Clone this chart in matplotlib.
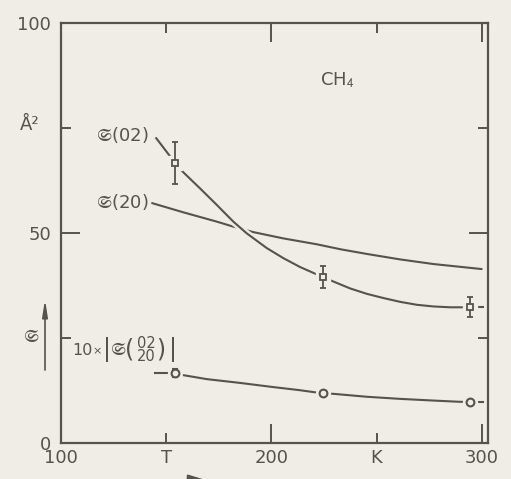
import matplotlib
matplotlib.use('Agg')
import matplotlib.pyplot as plt

plt.rcParams['font.family'] = ['DejaVu Sans', 'STIXGeneral']
plt.rcParams['mathtext.fontset'] = 'stixsans'

paper = '#efede6'
ink = '#54534e'

# measured cross sections (K, A^2)
T_meas = [154.2, 224.6, 294.5]
s02_meas = [66.7, 39.5, 32.3]
s02_err = [5.0, 2.6, 2.4]
ratio_meas = [16.7, 11.8, 9.8]
ratio_err = [1.0, 0.0, 0.0]

# hand-drawn guide curves
s02_T = [145.2, 154.2, 157.4, 166.1, 174.0, 181.9, 188.3, 197.8, 205.7, 213.6, 220.8, 224.6,
         228.7, 237.4, 245.4, 253.3, 261.2, 269.1, 277.0, 285.0, 294.5]
s02_y = [72.6, 66.7, 64.8, 60.6, 56.7, 52.7, 49.9, 46.4, 44.0, 41.9, 40.3, 39.5,
         38.6, 36.8, 35.5, 34.5, 33.6, 32.9, 32.5, 32.3, 32.3]
s20_T = [143.3, 158.2, 174.0, 181.9, 191.4, 205.7, 221.6, 233.0, 245.4, 261.2, 277.0, 300.0]
s20_y = [57.1, 54.9, 52.7, 51.5, 50.2, 48.7, 47.3, 46.1, 45.0, 43.7, 42.6, 41.4]
ratio_T = [153.3, 157.5, 169.3, 185.1, 201.0, 213.0, 224.6, 229.5, 245.4, 261.2, 277.0, 289.7, 294.5]
ratio_y = [16.7, 16.2, 15.2, 14.3, 13.3, 12.6, 11.8, 11.7, 11.0, 10.5, 10.1, 9.8, 9.8]

fig = plt.figure(figsize=(5.11, 4.79), dpi=100, facecolor=paper)
ax = fig.add_axes([0.1194, 0.0752, 0.8356, 0.877], facecolor=paper)

line_kw = dict(color=ink, lw=1.5, solid_joinstyle='round', solid_capstyle='round')

# curves; the 02 curve gets a paper-coloured edge where it crosses the 20 curve
ax.plot(s20_T, s20_y, zorder=2, **line_kw)
ax.plot(s02_T, s02_y, color=paper, lw=5, zorder=2.1)
ax.plot(s02_T, s02_y, zorder=2.2, **line_kw)
ax.plot(ratio_T, ratio_y, zorder=2, **line_kw)

# blank out the line around each point
ax.plot(T_meas, s02_meas, ls='none', marker='s', ms=10, mfc=paper, mec=paper, zorder=3)
ax.plot(T_meas, ratio_meas, ls='none', marker='o', ms=10, mfc=paper, mec=paper, zorder=3)

ax.errorbar(T_meas, s02_meas, yerr=s02_err, fmt='s', ms=4.8, mfc=paper, mec=ink,
            mew=1.3, ecolor=ink, elinewidth=1.3, capsize=2.2, capthick=1.3, zorder=4)
ax.errorbar(T_meas, ratio_meas, yerr=ratio_err, fmt='o', ms=5.6, mfc=paper, mec=ink,
            mew=1.5, ecolor=ink, elinewidth=1.3, capsize=2.2, capthick=1.3, zorder=4)

# little dashes beside the end points
ax.plot([T_meas[0] - 9.6, T_meas[0] - 3.8], [ratio_meas[0]] * 2, color=ink, lw=1.5)
ax.plot([T_meas[2] + 3.0, T_meas[2] + 6.2], [ratio_meas[2]] * 2, color=ink, lw=1.5)
ax.plot([T_meas[2] + 3.0, T_meas[2] + 6.2], [s02_meas[2]] * 2, color=ink, lw=1.5)

# curve labels
ax.text(141.5, 73.2, r'$\mathfrak{S}$(02)', ha='right', va='center', fontsize=13, color=ink)
ax.text(141.5, 57.4, r'$\mathfrak{S}$(20)', ha='right', va='center', fontsize=13, color=ink)
ax.text(223, 86.4, r'CH$_4$', ha='left', va='center', fontsize=13, color=ink)

# 10x|S(02 over 20)| set piece by piece, offsets in pixels from the anchor
anchor = (105.2, 22.1)
pieces = [
    ('10', 0, 0, 11.5, 'left', 1.2),
    ('×', 25.5, -1, 8, 'center', 1.2),
    ('|', 35, 1, 17, 'center', 1.2),
    (r'$\mathfrak{S}$', 46, 0, 13, 'center', 1.2),
    ('(', 58, 1, 17, 'center', 1.2),
    ('02\n20', 74, 0, 10.5, 'center', 0.85),
    (')', 89, 1, 17, 'center', 1.2),
    ('|', 101, 1, 17, 'center', 1.2),
]
for s, dx, dy, fs, ha, lsp in pieces:
    ax.annotate(s, xy=anchor, xytext=(dx, dy), textcoords='offset pixels',
                ha=ha, va='center', fontsize=fs, color=ink, linespacing=lsp,
                multialignment='center')

# axes
ax.set_xlim(100, 303)
ax.set_ylim(0, 100)
ax.set_xticks([100, 200, 300], labels=['100', '200', '300'])
ax.set_xticks([150, 250], labels=['T', 'K'], minor=True)
ax.set_yticks([0, 50, 100], labels=['0', '50', '100'])
ax.set_yticks([25, 75], minor=True)
ax.set_yticklabels([], minor=True)
ax.tick_params(which='both', direction='in', top=True, right=True, color=ink,
               labelcolor=ink, labelsize=13)
ax.tick_params(which='major', length=14, width=1.4)
ax.tick_params(which='minor', length=7, width=1.4)
ax.tick_params(axis='x', which='both', pad=4)
ax.tick_params(axis='y', which='major', pad=7)
for s in ax.spines.values():
    s.set_color(ink)
    s.set_linewidth(1.6)

ytr = ax.get_yaxis_transform()
ax.text(-0.096, 75.7, 'Å²', transform=ytr, ha='left', va='center', fontsize=13, color=ink)
ax.text(-0.070, 25.2, r'$\mathfrak{S}$', transform=ytr, ha='center', va='center',
        fontsize=13, color=ink)
ax.annotate('', xy=(-0.0375, 34.8), xytext=(-0.0375, 16.7), xycoords=ytr, textcoords=ytr,
            arrowprops=dict(arrowstyle='-|>,head_length=1.0,head_width=0.16', color=ink, lw=1.2),
            annotation_clip=False)

# arrow running off the bottom edge
xtr = ax.get_xaxis_transform()
ax.annotate('', xy=(172, -0.091), xytext=(131, -0.091), xycoords=xtr, textcoords=xtr,
            arrowprops=dict(arrowstyle='-|>,head_length=1.3,head_width=0.4', color=ink, lw=1.6),
            annotation_clip=False)

fig.savefig('out.png', dpi=100, facecolor=paper)
